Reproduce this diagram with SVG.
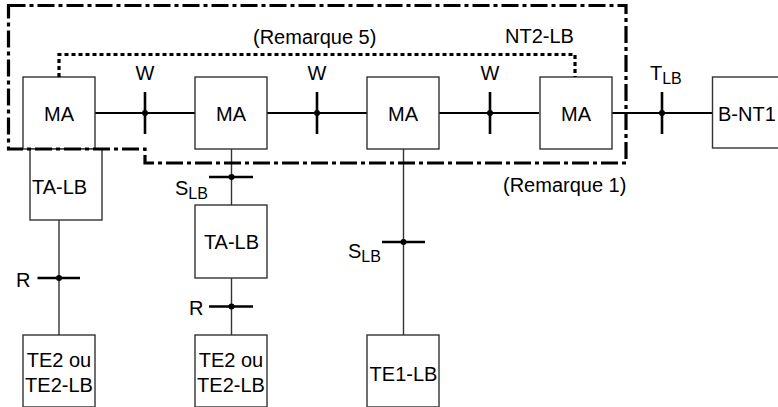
<svg xmlns="http://www.w3.org/2000/svg" width="778" height="407" viewBox="0 0 778 407">
<style>
.box{fill:#fff;stroke:#333;stroke-width:1.4}
.t{font-family:"Liberation Sans",Arial,sans-serif;font-size:20px;fill:#000}
.m{text-anchor:middle}
.sub{font-size:16px}
.bus{stroke:#000;stroke-width:2;fill:none}
.drop{stroke:#333;stroke-width:1.4;fill:none}
.bar{stroke:#000;stroke-width:2.6;fill:none}
.dot{fill:#000}
.dd{stroke:#000;stroke-width:3.2;fill:none;stroke-dasharray:17 4 4 4}
.dt{stroke:#000;stroke-width:3.2;fill:none;stroke-dasharray:4 3}
</style>
<rect width="778" height="407" fill="#fff"/>
<g id="connectors">
<path class="bus" d="M95,113H195M267,113H367M439,113H539M612,113H712"/>
<path class="drop" d="M59,220V335M231.5,149V205M231.5,278V335M403.5,149V335"/>
<path class="bar" d="M145,92V134M317,92V134M490,92V134M662,92V134"/>
<path class="bar" d="M209,177H253M37.5,278H80M209,306.5H253M382,242H425"/>
<circle class="dot" cx="145" cy="113" r="3"/>
<circle class="dot" cx="317" cy="113" r="3"/>
<circle class="dot" cx="490" cy="113" r="3"/>
<circle class="dot" cx="662" cy="113" r="3"/>
<circle class="dot" cx="231.5" cy="177" r="3"/>
<circle class="dot" cx="59" cy="278" r="3"/>
<circle class="dot" cx="231.5" cy="306.5" r="3"/>
<circle class="dot" cx="403.5" cy="242" r="3"/>
<text class="t m" x="145" y="80">W</text>
<text class="t m" x="317" y="80">W</text>
<text class="t m" x="490" y="80">W</text>
<text class="t" x="650" y="80">T<tspan class="sub" dy="4">LB</tspan></text>
<text class="t" x="175" y="195">S<tspan class="sub" dy="4">LB</tspan></text>
<text class="t" x="348" y="258">S<tspan class="sub" dy="4">LB</tspan></text>
<text class="t" x="16" y="287">R</text>
<text class="t" x="189" y="315">R</text>
</g>
<g id="ma1"><rect class="box" x="23" y="77" width="72" height="72"/><text class="t m" x="59" y="121">MA</text></g>
<g id="ma2"><rect class="box" x="195" y="77" width="72" height="72"/><text class="t m" x="231" y="121">MA</text></g>
<g id="ma3"><rect class="box" x="367" y="77" width="72" height="72"/><text class="t m" x="403" y="121">MA</text></g>
<g id="ma4"><rect class="box" x="540" y="77" width="72" height="72"/><text class="t m" x="576" y="121">MA</text></g>
<g id="bnt1"><rect class="box" x="712.5" y="77" width="72" height="71"/><text class="t" x="718" y="121">B-NT1</text></g>
<g id="ta1"><rect class="box" x="30" y="149" width="72" height="71"/><text class="t" x="32" y="194">TA-LB</text></g>
<g id="ta2"><rect class="box" x="195" y="205" width="72" height="73"/><text class="t m" x="231.5" y="249">TA-LB</text></g>
<g id="te2a"><rect class="box" x="23" y="335" width="72" height="72"/><text class="t m" x="59" y="367">TE2 ou</text><text class="t m" x="59" y="392">TE2-LB</text></g>
<g id="te2b"><rect class="box" x="195" y="335" width="72" height="72"/><text class="t m" x="231" y="367">TE2 ou</text><text class="t m" x="231" y="392">TE2-LB</text></g>
<g id="te1"><rect class="box" x="367" y="335" width="72" height="72"/><text class="t m" x="403.5" y="381">TE1-LB</text></g>
<g id="nt2">
<path class="dd" d="M8.5,5.5H626V163H145V149H8.5Z"/>
<path class="dt" d="M59,77V54.5H575V77"/>
<text class="t" x="253" y="44">(Remarque 5)</text>
<text class="t" x="505" y="43">NT2-LB</text>
<text class="t" x="503" y="192">(Remarque 1)</text>
</g>
</svg>
